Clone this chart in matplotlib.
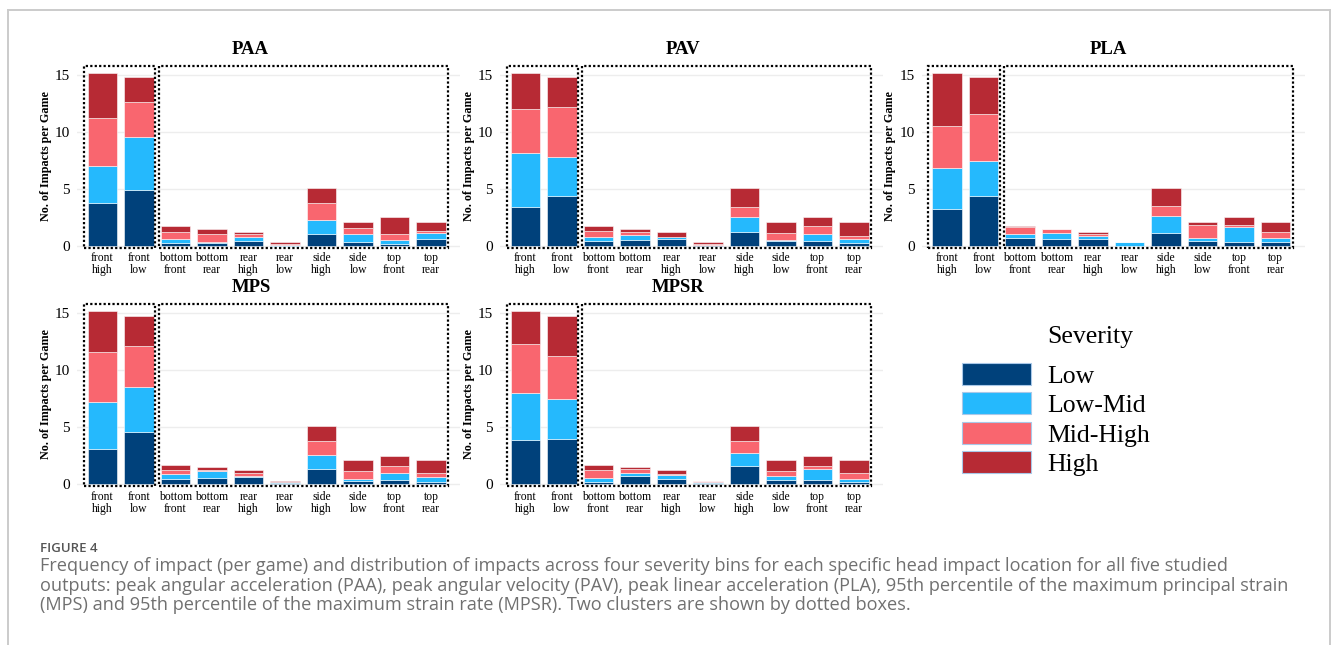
import matplotlib
matplotlib.use("Agg")
import matplotlib.pyplot as plt
from matplotlib.patches import Rectangle, Patch
from matplotlib.lines import Line2D
import numpy as np

# ---------------- data ----------------
locations = ["front\nhigh", "front\nlow", "bottom\nfront", "bottom\nrear", "rear\nhigh",
             "rear\nlow", "side\nhigh", "side\nlow", "top\nfront", "top\nrear"]
severity = ["Low", "Low-Mid", "Mid-High", "High"]
colors = ["#00417b", "#25b9fd", "#f9666f", "#b72a34"]

paa_low     = [3.78, 4.89, 0.20, 0.23, 0.38, 0.02, 1.00, 0.30, 0.18, 0.56]
paa_lowmid  = [3.22, 4.69, 0.36, 0.07, 0.38, 0.03, 1.26, 0.70, 0.29, 0.52]
paa_midhigh = [4.19, 3.02, 0.64, 0.70, 0.24, 0.10, 1.52, 0.58, 0.53, 0.21]
paa_high    = [4.01, 2.20, 0.50, 0.50, 0.20, 0.15, 1.32, 0.50, 1.49, 0.79]

pav_low     = [3.40, 4.39, 0.38, 0.50, 0.59, 0.05, 1.17, 0.44, 0.41, 0.23]
pav_lowmid  = [4.77, 3.40, 0.38, 0.47, 0.14, 0.03, 1.32, 0.09, 0.62, 0.36]
pav_midhigh = [3.83, 4.40, 0.50, 0.20, 0.07, 0.10, 0.91, 0.55, 0.67, 0.29]
pav_high    = [3.20, 2.61, 0.44, 0.33, 0.40, 0.12, 1.70, 1.00, 0.79, 1.20]

pla_low     = [3.19, 4.39, 0.70, 0.59, 0.59, 0.00, 1.11, 0.41, 0.29, 0.29]
pla_lowmid  = [3.67, 3.02, 0.33, 0.49, 0.29, 0.30, 1.49, 0.29, 1.32, 0.41]
pla_midhigh = [3.63, 4.19, 0.58, 0.42, 0.15, 0.00, 0.90, 1.12, 0.21, 0.50]
pla_high    = [4.71, 3.20, 0.09, 0.00, 0.17, 0.00, 1.60, 0.26, 0.67, 0.88]

mps_low     = [3.05, 4.60, 0.47, 0.50, 0.59, 0.12, 1.29, 0.29, 0.38, 0.18]
mps_lowmid  = [4.13, 3.90, 0.44, 0.61, 0.11, 0.02, 1.29, 0.18, 0.59, 0.44]
mps_midhigh = [4.39, 3.60, 0.32, 0.12, 0.27, 0.05, 1.22, 0.70, 0.64, 0.38]
mps_high    = [3.63, 2.70, 0.47, 0.29, 0.23, 0.11, 1.30, 0.91, 0.88, 1.08]

mpsr_low     = [3.87, 3.98, 0.20, 0.67, 0.41, 0.12, 1.58, 0.32, 0.32, 0.15]
mpsr_lowmid  = [4.10, 3.46, 0.36, 0.30, 0.38, 0.06, 1.12, 0.38, 0.97, 0.26]
mpsr_midhigh = [4.31, 3.84, 0.70, 0.32, 0.12, 0.05, 1.10, 0.41, 0.32, 0.59]
mpsr_high    = [2.92, 3.52, 0.44, 0.23, 0.29, 0.07, 1.30, 0.97, 0.88, 1.08]

panel_titles = ["PAA", "PAV", "PLA", "MPS", "MPSR"]
yticks = [0, 5, 10, 15]

panels = {
    "PAA": [paa_low, paa_lowmid, paa_midhigh, paa_high],
    "PAV": [pav_low, pav_lowmid, pav_midhigh, pav_high],
    "PLA": [pla_low, pla_lowmid, pla_midhigh, pla_high],
    "MPS": [mps_low, mps_lowmid, mps_midhigh, mps_high],
    "MPSR": [mpsr_low, mpsr_lowmid, mpsr_midhigh, mpsr_high],
}

caption_head = "FIGURE 4"
caption_lines = [
    "Frequency of impact (per game) and distribution of impacts across four severity bins for each specific head impact location for all five studied",
    "outputs: peak angular acceleration (PAA), peak angular velocity (PAV), peak linear acceleration (PLA), 95th percentile of the maximum principal strain",
    "(MPS) and 95th percentile of the maximum strain rate (MPSR). Two clusters are shown by dotted boxes.",
]

# ---------------- layout ----------------
W, H = 1336, 645
plt.rcParams["font.family"] = ["Liberation Serif", "DejaVu Serif"]
fig = plt.figure(figsize=(W / 100, H / 100), dpi=100)

def fx(px):
    return px / W

def fy(py):
    return 1 - py / H

ax_w = 383.3 / W
ax_h = 189.0 / H
lefts = {"PAA": 76.95, "PAV": 499.95, "PLA": 921.5, "MPS": 76.95, "MPSR": 499.95}
bottoms = {"PAA": 250.3, "PAV": 250.3, "PLA": 250.3, "MPS": 488.6, "MPSR": 488.6}
title_pos = {"PAA": (250, 50), "PAV": (683, 50), "PLA": (1108, 50),
             "MPS": (251, 288), "MPSR": (678, 288)}

x = np.arange(len(locations))
for name in panel_titles:
    ax = fig.add_axes([fx(lefts[name]), fy(bottoms[name]), ax_w, ax_h])
    ax.set_xlim(-0.7, 9.8)
    ax.set_ylim(-0.4, 16.2)
    for yv in yticks:
        ax.axhline(yv, color="#ededed", lw=1.0, zorder=0)
    bottom = np.zeros(len(locations))
    for vals, col, lab in zip(panels[name], colors, severity):
        v = np.array(vals)
        ax.bar(x, v, width=0.8, bottom=bottom, color=col, label=lab,
               edgecolor=(1, 1, 1, 0.55), linewidth=0.7, zorder=2)
        bottom += v
    # cluster boxes
    ax.add_patch(Rectangle((-0.52, -0.2), 1.97, 16.0, fill=False, ec="black",
                           lw=1.6, ls=(0, (1, 1)), zorder=3, clip_on=False))
    ax.add_patch(Rectangle((1.55, -0.2), 7.92, 16.0, fill=False, ec="black",
                           lw=1.6, ls=(0, (1, 1)), zorder=3, clip_on=False))
    ax.set_xticks(x)
    ax.set_xticklabels(locations, fontsize=8.4, linespacing=1.0)
    ax.set_yticks(yticks)
    ax.tick_params(axis="y", length=0, pad=5, labelsize=11)
    ax.tick_params(axis="x", length=0, pad=1.5)
    for s in ax.spines.values():
        s.set_visible(False)
    ax.set_ylabel("No. of Impacts per Game", fontsize=8.7, fontweight="bold")
    ax.yaxis.set_label_coords(-0.066, 0.5)
    tx, ty = title_pos[name]
    fig.text(fx(tx), fy(ty), name, fontsize=13.5, fontweight="bold",
             ha="center", va="center")

# legend
handles = [Patch(facecolor=c, edgecolor="#a9c8e8", linewidth=0.8) for c in colors]
fig.legend(handles, severity, loc="upper left",
           bbox_to_anchor=(fx(962), fy(363)), frameon=False, fontsize=18.5,
           handlelength=2.68, handleheight=0.93, handletextpad=0.62,
           labelspacing=0.18, borderpad=0, borderaxespad=0)
fig.text(fx(1047), fy(337), "Severity", fontsize=18.5, ha="left", va="center")

# frame
fc = "#cbcbcb"
fig.add_artist(Line2D([fx(7.5), fx(7.5)], [fy(10), fy(650)], color=fc, lw=1.4))
fig.add_artist(Line2D([fx(7.5), fx(1330)], [fy(10), fy(10)], color=fc, lw=1.4))
fig.add_artist(Line2D([fx(1330), fx(1330)], [fy(10), fy(650)], color=fc, lw=1.4))

# caption
cap_font = ["Open Sans", "DejaVu Sans"]
fig.text(fx(40), fy(551.7), caption_head, fontsize=9.5, fontweight="semibold",
         color="#555555", family=cap_font, va="baseline", ha="left")
cap_texts = []
for yb, line in zip([570.7, 590.6, 610.5], caption_lines):
    cap_texts.append(fig.text(fx(40), fy(yb), line, fontsize=11, color="#707070",
                              family=cap_font, va="baseline", ha="left"))
fig.canvas.draw()
r = fig.canvas.get_renderer()
wline = cap_texts[1].get_window_extent(r).width
scale = (1294 - 40) / wline
for t in cap_texts:
    t.set_fontsize(11 * scale)

fig.savefig("out.png", dpi=100)
